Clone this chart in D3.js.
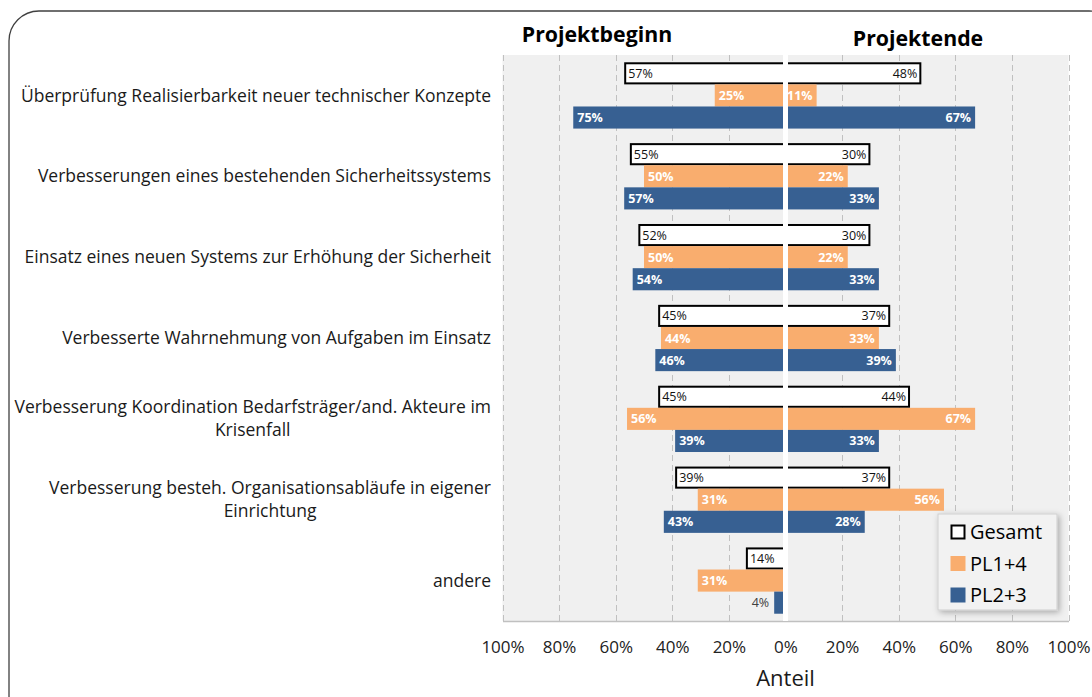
<!DOCTYPE html>
<html><head><meta charset="utf-8">
<script src="https://cdn.jsdelivr.net/npm/d3@7"></script>
<style>
html,body{margin:0;padding:0;background:#fff;}
svg{display:block;font-family:"Open Sans",sans-serif;}
</style></head>
<body><svg id="c" width="1092" height="697"></svg>
<script>
const categories = [
  "Überprüfung Realisierbarkeit neuer technischer Konzepte",
  "Verbesserungen eines bestehenden Sicherheitssystems",
  "Einsatz eines neuen Systems zur Erhöhung der Sicherheit",
  "Verbesserte Wahrnehmung von Aufgaben im Einsatz",
  "Verbesserung Koordination Bedarfsträger/and. Akteure im\nKrisenfall",
  "Verbesserung besteh. Organisationsabläufe in eigener\nEinrichtung",
  "andere"
];
const seriesNames = ["Gesamt", "PL1+4", "PL2+3"];
const beginGesamt = [57, 55, 52, 45, 45, 39, 14];
const beginPL14   = [25, 50, 50, 44, 56, 31, 31];
const beginPL23   = [75, 57, 54, 46, 39, 43, 4];
const endGesamt   = [48, 30, 30, 37, 44, 37, null];
const endPL14     = [11, 22, 22, 33, 67, 56, null];
const endPL23     = [67, 33, 33, 39, 33, 28, null];
const tickValues  = [-100, -80, -60, -40, -20, 0, 20, 40, 60, 80, 100];
const panelTitles = ["Projektbeginn", "Projektende"];
const axisTitle = "Anteil";

const colors = {"Gesamt": "#ffffff", "PL1+4": "#F9AD6E", "PL2+3": "#376092"};

const svg = d3.select("#c");
const plotTop = 55, plotBottom = 621;
const x = d3.scaleLinear().domain([-100, 100]).range([502.5, 1068.5]);
const y = d3.scaleBand().domain(d3.range(categories.length)).range([plotTop, plotBottom])
  .paddingInner(0.18).paddingOuter(0.09);
const ys = d3.scaleBand().domain(seriesNames).range([0, y.bandwidth()]);

// outer rounded border
svg.append("rect").attr("x", 9).attr("y", 11).attr("width", 1110).attr("height", 720)
  .attr("rx", 30).attr("fill", "none").attr("stroke", "#404040").attr("stroke-width", 1.3);

// panel backgrounds
svg.append("rect").attr("x", x(-100)).attr("y", plotTop).attr("width", x(0) - x(-100)).attr("height", plotBottom - plotTop).attr("fill", "#f0f0f0");
svg.append("rect").attr("x", x(0)).attr("y", plotTop).attr("width", x(100) - x(0)).attr("height", plotBottom - plotTop).attr("fill", "#f0f0f0");

// gridlines
svg.append("g").selectAll("line").data(tickValues).join("line")
  .attr("x1", d => Math.round(x(d)) + 0.5).attr("x2", d => Math.round(x(d)) + 0.5)
  .attr("y1", plotTop).attr("y2", plotBottom)
  .attr("stroke", "#c0c0c0").attr("stroke-width", 1).attr("stroke-dasharray", "6,4");

// bottom axis
const axis = d3.axisBottom(x).tickValues(tickValues).tickSize(0).tickPadding(20)
  .tickFormat(d => Math.abs(d) + "%");
const gAx = svg.append("g").attr("transform", `translate(0,${plotBottom})`).call(axis);
gAx.select(".domain").attr("stroke", "#c0c0c0").attr("stroke-width", 1.5);
gAx.selectAll("text").attr("font-size", 17).attr("fill", "#222").attr("font-family", "Open Sans");

// bars
const data = [];
categories.forEach((c, i) => {
  const b = [beginGesamt[i], beginPL14[i], beginPL23[i]];
  const e = [endGesamt[i], endPL14[i], endPL23[i]];
  seriesNames.forEach((s, j) => {
    if (b[j] != null) data.push({i, s, side: -1, v: b[j]});
    if (e[j] != null) data.push({i, s, side: 1, v: e[j]});
  });
});

const gBars = svg.append("g");
data.forEach(d => {
  const x0 = d.side < 0 ? x(-d.v) : x(0);
  const x1 = d.side < 0 ? x(0) : x(d.v);
  const yy = y(d.i) + ys(d.s);
  const h = ys.bandwidth();
  if (d.s === "Gesamt") {
    gBars.append("rect").attr("x", x0 + 1).attr("y", yy + 1).attr("width", Math.max(0, x1 - x0 - 2)).attr("height", h - 2)
      .attr("fill", "#fff").attr("stroke", "#000").attr("stroke-width", 2);
  } else {
    gBars.append("rect").attr("x", x0).attr("y", yy).attr("width", x1 - x0).attr("height", h)
      .attr("fill", colors[d.s]);
  }
});

// separator
svg.append("rect").attr("x", x(0) - 2.5).attr("y", plotTop).attr("width", 5).attr("height", plotBottom - plotTop).attr("fill", "#fff");

// labels
const gLab = svg.append("g");
data.forEach(d => {
  const w = x(d.v) - x(0);
  const yy = y(d.i) + ys(d.s) + ys.bandwidth() / 2;
  const inside = w > 20;
  const t = gLab.append("text").attr("y", yy).attr("dy", "0.36em").attr("font-size", 12.5).text(d.v + "%");
  if (d.s === "Gesamt") {
    t.attr("fill", "#111");
  } else if (inside) {
    t.attr("fill", "#fff").attr("font-weight", "bold");
  } else {
    t.attr("fill", "#404040");
  }
  if (d.side < 0) {
    if (inside) t.attr("x", x(-d.v) + 4).attr("text-anchor", "start");
    else t.attr("x", x(-d.v) - 5).attr("text-anchor", "end");
  } else {
    if (inside) t.attr("x", x(d.v) - 4).attr("text-anchor", "end");
    else t.attr("x", x(d.v) + 5).attr("text-anchor", "start");
  }
});

// category labels
const catFont = 17.5;
const gCat = svg.append("g");
categories.forEach((c, i) => {
  const lines = c.split("\n");
  const cy = y(i) + y.bandwidth() / 2;
  const lh = 23;
  const t = gCat.append("text").attr("font-size", catFont).attr("fill", "#1a1a1a");
  const widths = lines.map(l => {
    const m = svg.append("text").attr("font-size", catFont).text(l);
    const wd = m.node().getComputedTextLength(); m.remove(); return wd;
  });
  const maxW = d3.max(widths);
  const right = 491;
  lines.forEach((l, k) => {
    t.append("tspan").attr("x", right - maxW / 2).attr("text-anchor", "middle")
      .attr("y", cy + (k - (lines.length - 1) / 2) * lh).attr("dy", "0.35em").text(l);
  });
});

// panel titles
svg.append("text").attr("x", 597).attr("y", 42).attr("text-anchor", "middle")
  .attr("font-size", 21.3).attr("font-weight", "bold").attr("fill", "#000").text(panelTitles[0]);
svg.append("text").attr("x", 918).attr("y", 46).attr("text-anchor", "middle")
  .attr("font-size", 21.3).attr("font-weight", "bold").attr("fill", "#000").text(panelTitles[1]);

// axis title
svg.append("text").attr("x", x(0)).attr("y", 686).attr("text-anchor", "middle")
  .attr("font-size", 22).attr("fill", "#1a1a1a").text(axisTitle);

// legend
const defs = svg.append("defs");
const f = defs.append("filter").attr("id", "sh").attr("x", "-20%").attr("y", "-20%").attr("width", "150%").attr("height", "150%");
f.append("feDropShadow").attr("dx", 2).attr("dy", 2).attr("stdDeviation", 3).attr("flood-color", "#000").attr("flood-opacity", 0.3);
const lg = svg.append("g").attr("transform", "translate(938,514)");
lg.append("rect").attr("width", 119).attr("height", 96).attr("fill", "#f2f2f2")
  .attr("stroke", "#cfcfcf").attr("filter", "url(#sh)");
seriesNames.forEach((s, k) => {
  const cy = 18 + k * 31.5;
  if (s === "Gesamt") {
    lg.append("rect").attr("x", 13.5).attr("y", cy - 6.5).attr("width", 13).attr("height", 13)
      .attr("fill", "#fff").attr("stroke", "#000").attr("stroke-width", 2);
  } else {
    lg.append("rect").attr("x", 12.5).attr("y", cy - 7.5).attr("width", 15).attr("height", 15).attr("fill", colors[s]);
  }
  lg.append("text").attr("x", 32).attr("y", cy).attr("dy", "0.36em").attr("font-size", 20).attr("fill", "#000").text(s);
});
</script></body></html>
